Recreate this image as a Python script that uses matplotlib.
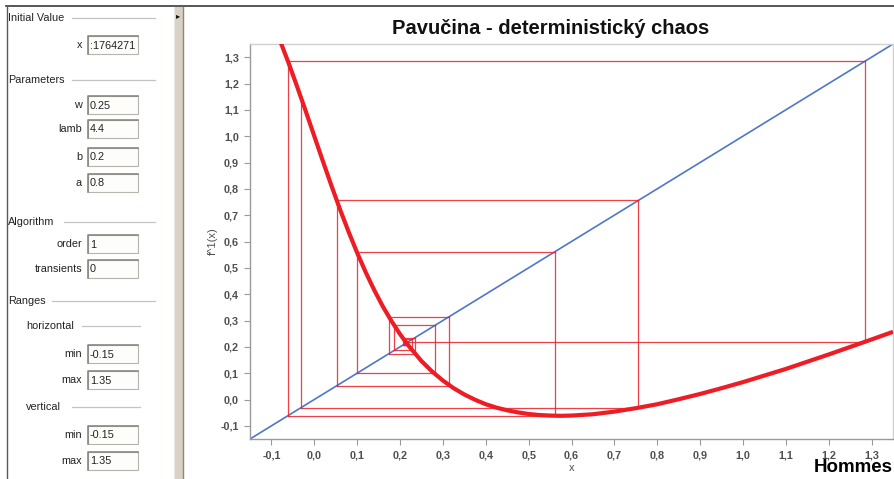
import matplotlib.pyplot as plt
from matplotlib.patches import Rectangle
from matplotlib.ticker import FuncFormatter

# sampled map f^1(x)
curve_x = [-0.08, -0.06, -0.04, -0.02, 0.00, 0.02, 0.04, 0.06, 0.08, 0.10, 0.12,
           0.14, 0.16, 0.18, 0.20, 0.22, 0.25, 0.275, 0.30, 0.325, 0.35, 0.375,
           0.40, 0.425, 0.45, 0.475, 0.50, 0.525, 0.55, 0.575, 0.60, 0.65, 0.70,
           0.75, 0.80, 0.85, 0.90, 0.95, 1.00, 1.10, 1.20, 1.30, 1.35]
curve_y = [1.363, 1.278, 1.188, 1.095, 1.000, 0.905, 0.812, 0.722, 0.637, 0.557, 0.483,
           0.415, 0.353, 0.298, 0.248, 0.204, 0.146, 0.106, 0.072, 0.043, 0.019, -0.001,
           -0.018, -0.031, -0.041, -0.049, -0.055, -0.059, -0.061, -0.062, -0.061, -0.056, -0.046,
           -0.033, -0.018, 0.001, 0.021, 0.043, 0.066, 0.116, 0.171, 0.228, 0.257]

# iterates x_n of the orbit (last one only gets its vertical step)
orbit = [0.2176, 0.2084, 0.2285, 0.1864, 0.2822, 0.0988, 0.5615, -0.0614, 1.2838,
         0.2190, 0.2061, 0.2353, 0.1746, 0.3150, 0.0520, 0.7560, -0.0315, 1.1490]

x_range = [-0.15, 1.35]
y_range = [-0.15, 1.35]
x_ticks = [-0.1, 0.0, 0.1, 0.2, 0.3, 0.4, 0.5, 0.6, 0.7, 0.8, 0.9, 1.0, 1.1, 1.2, 1.3]
y_ticks = [-0.1, 0.0, 0.1, 0.2, 0.3, 0.4, 0.5, 0.6, 0.7, 0.8, 0.9, 1.0, 1.1, 1.2, 1.3]

# settings panel contents
init_labels = ["x"]
init_values = [":1764271"]
param_labels = ["w", "lamb", "b", "a"]
param_values = ["0.25", "4.4", "0.2", "0.8"]
algo_labels = ["order", "transients"]
algo_values = ["1", "0"]
range_labels = ["min", "max"]
horiz_values = ["-0.15", "1.35"]
vert_values = ["-0.15", "1.35"]

W, H = 894, 479
fig = plt.figure(figsize=(W / 100, H / 100), dpi=100)
fig.patch.set_facecolor("white")

# ---- left panel, drawn in pixel coordinates ----
pn = fig.add_axes([0, 0, 1, 1])
pn.set_xlim(0, W)
pn.set_ylim(H, 0)
pn.axis("off")

pfont = dict(family="Liberation Sans", fontsize=7.8, color="#222222")

pn.plot([6, W], [6, 6], color="#3a3a3a", lw=1.2)
pn.plot([6.5, 6.5], [6, H], color="#5a5a5a", lw=1.0)

# splitter bar
pn.add_patch(Rectangle((174, 6.5), 9, H, facecolor="#d8d2c6", edgecolor="none"))
pn.plot([174, 174], [6.5, H], color="#ece8e0", lw=0.8)
pn.plot([182.5, 182.5], [6.5, H], color="#8f8676", lw=1.0)
pn.text(178, 16, "\u25b8", ha="center", va="center", fontsize=6, color="#111111",
        family="DejaVu Sans")


def group(title, x, y, x0, x1):
    pn.text(x, y, title, ha="left", va="center", **pfont)
    pn.plot([x0, x1], [y, y], color="#c4c4c4", lw=0.9)


def field(label, value, y):
    pn.text(82, y, label, ha="right", va="center", **pfont)
    pn.add_patch(Rectangle((87.5, y - 9), 50, 18, facecolor="#fdfdfb",
                           edgecolor="#b8b4ac", lw=0.8))
    pn.plot([87.5, 87.5, 137.5], [y + 9, y - 9, y - 9], color="#8a8780", lw=1.2)
    pn.text(90, y + 0.5, value, ha="left", va="center", **pfont)


group("Initial Value", 8, 18, 72, 155)
for lab, val, yy in zip(init_labels, init_values, [45]):
    field(lab, val, yy)

group("Parameters", 8, 80, 72, 155)
for lab, val, yy in zip(param_labels, param_values, [105, 129, 156.5, 183]):
    field(lab, val, yy)

group("Algorithm", 8, 222, 64, 155)
for lab, val, yy in zip(algo_labels, algo_values, [244, 269]):
    field(lab, val, yy)

group("Ranges", 8, 301, 52, 155)
group("horizontal", 26, 326, 82, 140)
for lab, val, yy in zip(range_labels, horiz_values, [354, 380]):
    field(lab, val, yy)
group("vertical", 26, 407, 72, 140)
for lab, val, yy in zip(range_labels, vert_values, [435, 461]):
    field(lab, val, yy)

# ---- cobweb chart ----
ax = fig.add_axes([250 / W, 1 - 439 / H, 643 / W, 395 / H])
ax.set_xlim(*x_range)
ax.set_ylim(*y_range)

ax.plot(x_range, y_range, color="#4f77c9", lw=1.2, zorder=2)

web = dict(color="#ec2027", lw=0.9, alpha=0.85, zorder=3)
for n in range(len(orbit) - 1):
    xn, xn1 = orbit[n], orbit[n + 1]
    ax.plot([xn, xn], [xn, xn1], **web)
    if n + 1 < len(orbit) - 1:
        ax.plot([xn, xn1], [xn1, xn1], **web)

ax.plot(curve_x, curve_y, color="#ee1c25", lw=3.0, solid_capstyle="butt",
        solid_joinstyle="round", zorder=4)

comma = FuncFormatter(lambda v, p: f"{round(v, 1) + 0.0:.1f}".replace(".", ","))
ax.set_xticks(x_ticks)
ax.set_yticks(y_ticks)
ax.xaxis.set_major_formatter(comma)
ax.yaxis.set_major_formatter(comma)
tfont = dict(family="Liberation Sans", size=7.8, weight="bold")
for lab in ax.get_xticklabels() + ax.get_yticklabels():
    lab.set_fontproperties(tfont)
ax.tick_params(direction="out", length=4, width=0.8, color="#9a9a9a",
               labelcolor="#505050", pad=4)

for side in ["left", "bottom"]:
    ax.spines[side].set_color("#9a9a9a")
    ax.spines[side].set_linewidth(1.0)
for side in ["top", "right"]:
    ax.spines[side].set_color("#d0d0d0")
    ax.spines[side].set_linewidth(1.0)

ax.set_xlabel("x", family="Liberation Sans", fontsize=8, color="#505050", labelpad=2)
ax.set_ylabel("f^1(x)", family="Liberation Sans", fontsize=8, color="#505050", labelpad=2)

fig.text(551 / W, 1 - 28 / H, "Pavučina - deterministický chaos", ha="center",
         va="center", family="Liberation Sans", fontsize=14.5, weight="bold", color="#111111")
fig.text(893 / W, 1 - 467 / H, "Hommes", ha="right", va="center",
         family="Liberation Sans", fontsize=13.5, weight="bold", color="#000000")

fig.savefig("out.png", dpi=100)
